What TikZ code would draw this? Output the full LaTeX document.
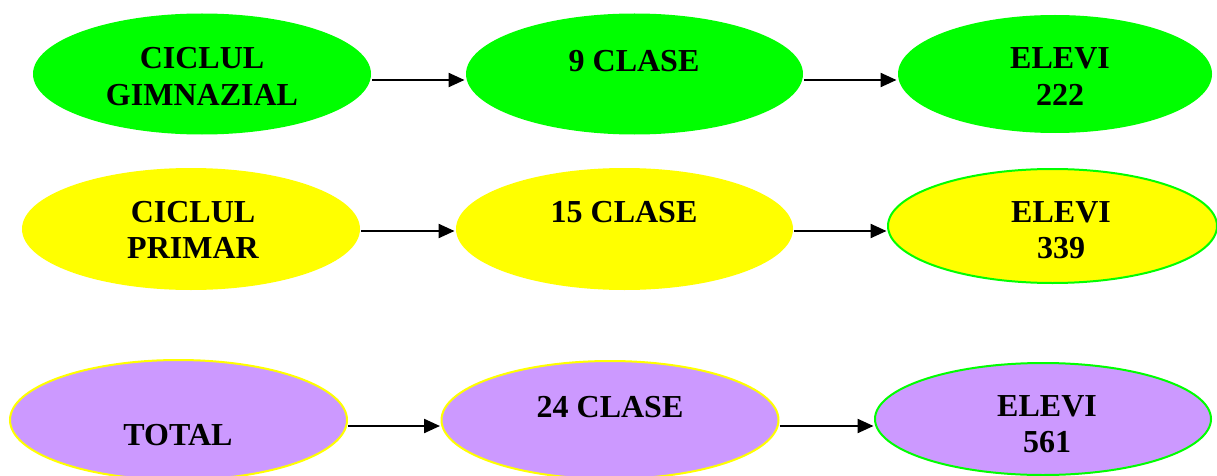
\documentclass[tikz,border=0pt]{standalone}
\usepackage{fontspec}
\setmainfont{Liberation Serif}
\usetikzlibrary{shapes.geometric,arrows.meta}
\definecolor{cgreen}{HTML}{00FF00}
\definecolor{cyellow}{HTML}{FFFF00}
\definecolor{cpurple}{HTML}{CC99FF}
\tikzset{
  oval/.style={ellipse, inner sep=0pt, line width=2pt},
  txt/.style={anchor=base, inner sep=0pt, font=\fontsize{32}{38}\selectfont\bfseries},
  arr/.style={line width=2.3pt, -{Triangle[length=16pt,width=14pt]}, shorten >=0.5pt}
}
\begin{document}
\begin{tikzpicture}[x=1pt,y=-1pt]
\useasboundingbox (0,0) rectangle (1217,476);
% row 1
\node[oval, fill=cgreen, minimum width=338pt, minimum height=121pt] (g1) at (202,74) {};
\node[oval, fill=cgreen, minimum width=337pt, minimum height=121pt] (g2) at (634.5,74) {};
\node[oval, fill=cgreen, minimum width=314pt, minimum height=118pt] (g3) at (1055,74) {};
% row 2
\node[oval, fill=cyellow, minimum width=338pt, minimum height=122pt] (y1) at (191,229) {};
\node[oval, fill=cyellow, minimum width=337pt, minimum height=122pt] (y2) at (624.5,229) {};
\node[oval, fill=cyellow, draw=cgreen, minimum width=329pt, minimum height=114pt] (y3) at (1052.5,226) {};
% row 3
\node[oval, fill=cpurple, draw=cyellow, minimum width=337pt, minimum height=120pt] (p1) at (178.5,420) {};
\node[oval, fill=cpurple, draw=cyellow, minimum width=337pt, minimum height=118pt] (p2) at (610,420) {};
\node[oval, fill=cpurple, draw=cgreen, minimum width=336pt, minimum height=112pt] (p3) at (1043,419) {};
% texts
\node[txt] (t1a) at (202,69) {CICLUL};
\node[txt] (t1b) at (202,106) {GIMNAZIAL};
\node[txt] (t2) at (634,72) {9 CLASE};
\node[txt] (t3a) at (1060,69) {ELEVI};
\node[txt] (t3b) at (1060,106) {222};
\node[txt] (t4a) at (193,222) {CICLUL};
\node[txt] (t4b) at (193,258) {PRIMAR};
\node[txt] (t5) at (624,222) {15 CLASE};
\node[txt] (t6a) at (1061,222) {ELEVI};
\node[txt] (t6b) at (1061,258) {339};
\node[txt] (t7) at (178,445) {TOTAL};
\node[txt] (t8) at (610,417) {24 CLASE};
\node[txt] (t9a) at (1047,416) {ELEVI};
\node[txt] (t9b) at (1047,452) {561};
% arrows
\draw[arr] (g1.east |- 0,80) -- (g2.west |- 0,80);
\draw[arr] (g2.east |- 0,80) -- (g3.west |- 0,80);
\draw[arr] (y1.east |- 0,231) -- (y2.west |- 0,231);
\draw[arr] (y2.east |- 0,231) -- (y3.west |- 0,231);
\draw[arr] (p1.east |- 0,426) -- (p2.west |- 0,426);
\draw[arr] (p2.east |- 0,426) -- (p3.west |- 0,426);
\end{tikzpicture}
\end{document}
